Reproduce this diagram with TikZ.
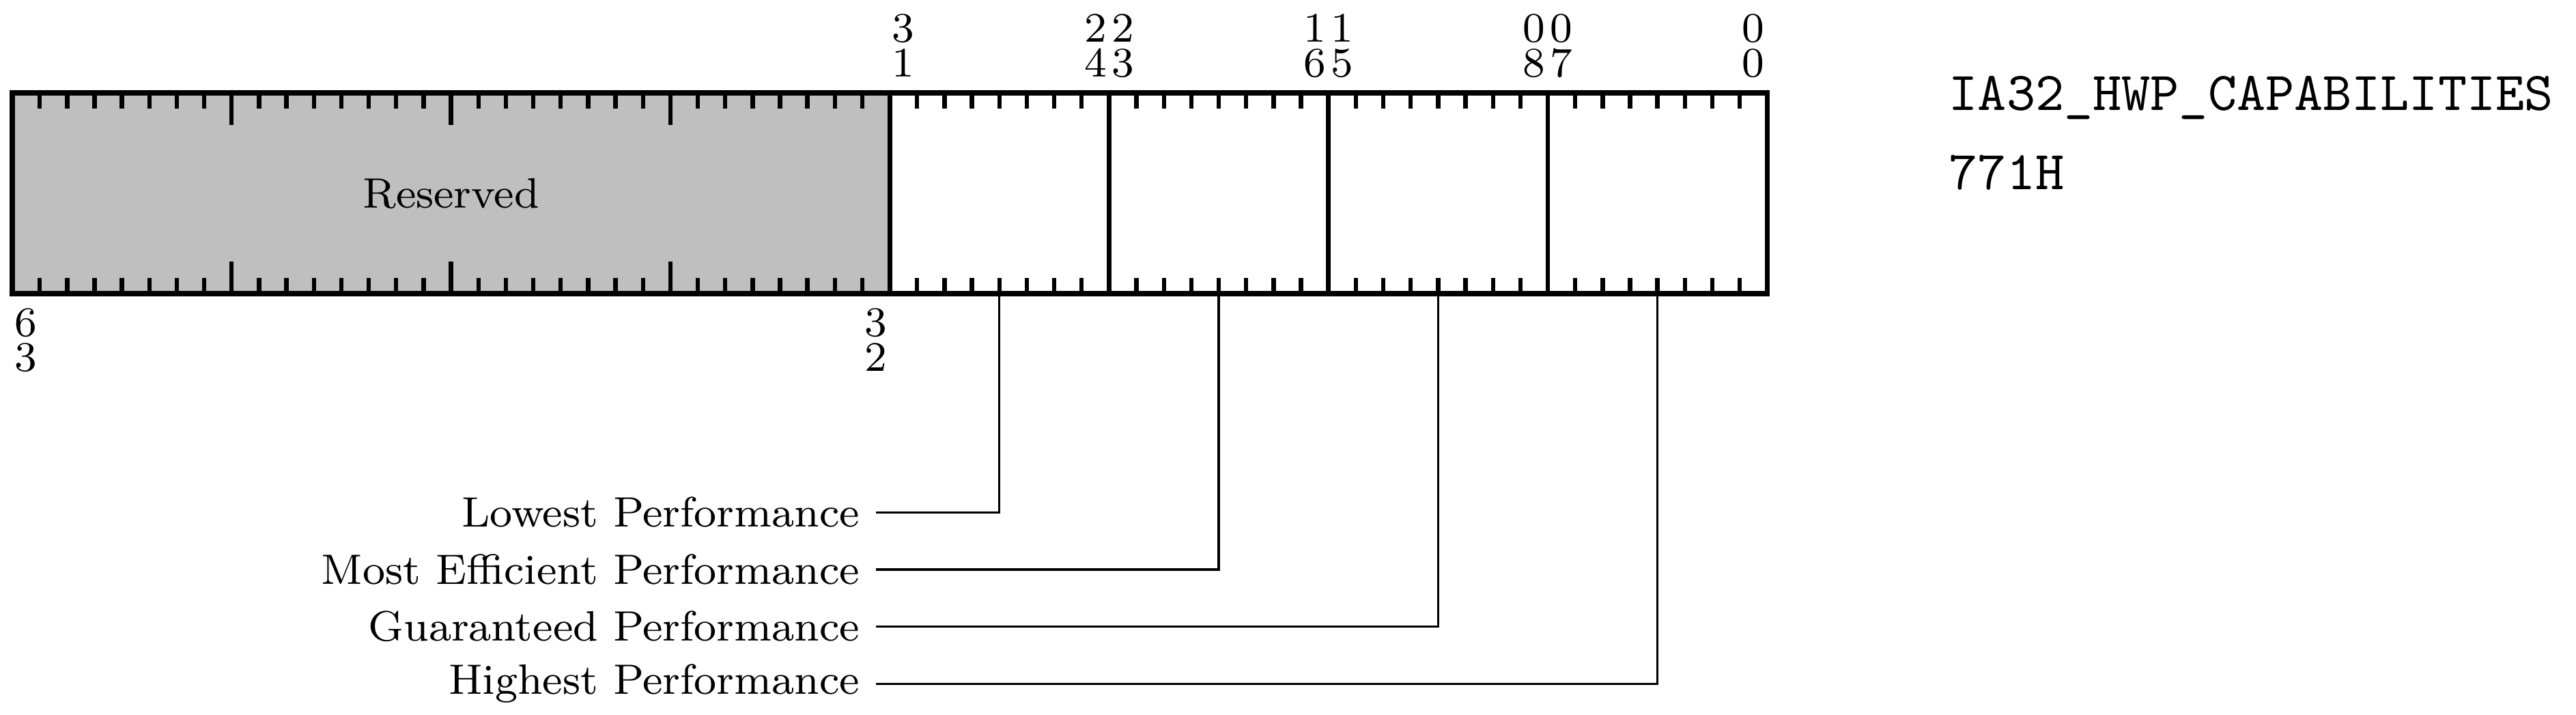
\documentclass[tikz,border=0pt]{standalone}
\usepackage{tikz}
\usetikzlibrary{positioning, calc}

\tikzset{
    regline/.style={line width=1pt},
    bittick/.style={line width=0.85pt},
    fieldsep/.style={line width=0.9pt},
    leader/.style={line width=0.45pt},
    bitnum/.style={inner sep=0pt, anchor=base, font=\fontsize{8.2}{9.6}\selectfont},
    fieldname/.style={anchor=east, inner sep=3pt, font=\fontsize{8.3}{9.6}\selectfont},
    regname/.style={anchor=base west, inner sep=0pt, font=\fontsize{10.7}{12}\selectfont\ttfamily}
}

\begin{document}
\begin{tikzpicture}[x=5.355pt, y=5.355pt]
    \useasboundingbox (-0.448,-15.34) rectangle (93.5,10.71);

    % Reserved bits 63:32
    \fill[black!25] (0,0) rectangle (32,7.32);
    \node[font=\fontsize{8.3}{9.6}\selectfont] (rsvd) at (16,3.66) {Reserved};

    % Add tick marks on the top and bottom edges
    \foreach \b in {1,...,63} {
        \draw[bittick] (\b,7.32) -- (\b,6.75);
        \draw[bittick] (\b,0) -- (\b,0.57);
    }

    % Longer marks every byte of the reserved part
    \foreach \b in {8,16,24} {
        \draw[bittick] (\b,7.32) -- (\b,6.15);
        \draw[bittick] (\b,0) -- (\b,1.17);
    }

    % Field boundaries
    \foreach \b in {32,40,48,56} {
        \draw[fieldsep] (\b,0) -- (\b,7.32);
    }
    \draw[regline] (0,0) rectangle (64,7.32);

    % Bit numbers above the register
    \foreach \b/\hi/\lo in {31/3/1,24/2/4,23/2/3,16/1/6,15/1/5,8/0/8,7/0/7,0/0/0} {
        \node[bitnum] (hi\b) at (63.5-\b,9.19) {\hi};
        \node[bitnum] (lo\b) at (63.5-\b,7.92) {\lo};
    }

    % Bit numbers below the register
    \foreach \b/\hi/\lo in {63/6/3,32/3/2} {
        \node[bitnum] (hi\b) at (63.5-\b,-1.544) {\hi};
        \node[bitnum] (lo\b) at (63.5-\b,-2.81) {\lo};
    }

    % Register name and address
    \node[regname] (msrname) at (70.6,6.70) {IA32\_HWP\_CAPABILITIES};
    \node[regname] (msraddr) at (70.6,3.81) {771H};

    % Field descriptions
    \coordinate (lowbits) at (36,0);
    \coordinate (effbits) at (44,0);
    \coordinate (guarbits) at (52,0);
    \coordinate (highbits) at (60,0);

    \node[fieldname] (lowest) at (31.5,-7.97) {Lowest Performance};
    \node[fieldname] (efficient) at (31.5,-10.06) {Most Efficient Performance};
    \node[fieldname] (guaranteed) at (31.5,-12.13) {Guaranteed Performance};
    \node[fieldname] (highest) at (31.5,-14.22) {Highest Performance};

    \draw[leader] (lowbits) |- (lowest.east);
    \draw[leader] (effbits) |- (efficient.east);
    \draw[leader] (guarbits) |- (guaranteed.east);
    \draw[leader] (highbits) |- (highest.east);

\end{tikzpicture}
\end{document}
